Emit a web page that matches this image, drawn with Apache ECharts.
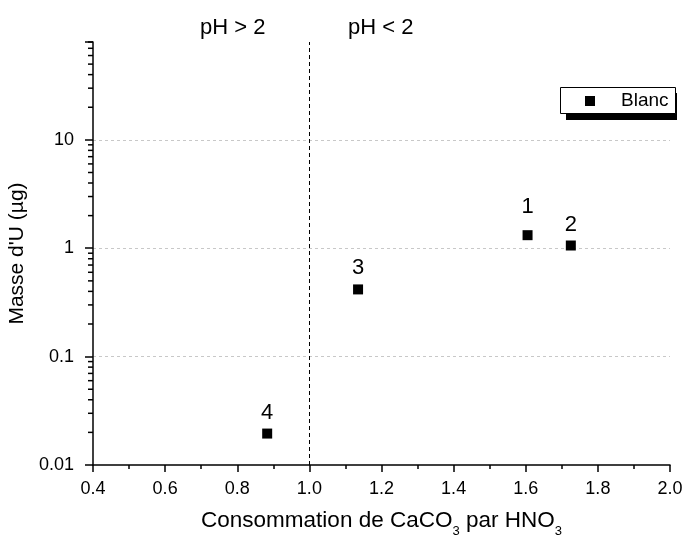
<!DOCTYPE html>
<html>
<head>
<meta charset="utf-8">
<script src="https://cdn.jsdelivr.net/npm/echarts@6/dist/echarts.min.js"></script>
<style>
html, body { margin: 0; padding: 0; background: #fff; }
#chart { width: 683px; height: 537px; }
</style>
</head>
<body>
<div id="chart"></div>
<script>
// données
var ratio = [1.605, 1.725, 1.135, 0.883];   // consommation CaCO3 / HNO3
var masse = [1.32, 1.06, 0.417, 0.0195];    // masse d'U (µg)
var pointLabels = ['1', '2', '3', '4'];
var seriesName = 'Blanc';
var xTicks = [0.4, 0.6, 0.8, 1.0, 1.2, 1.4, 1.6, 1.8, 2.0];
var yTicks = [0.01, 0.1, 1, 10];
var seuil = 1.0; // limite pH

var font = 'Liberation Sans, Arial, sans-serif';

// points avec étiquettes
var pts = [];
for (var i = 0; i < ratio.length; i++) {
	pts.push({
		value: [ratio[i], masse[i]],
		label: { formatter: pointLabels[i], offset: i == 0 ? [0, -7] : [0, 0] }
	});
}

// petites graduations log (2..9 par décade)
var minor = [];
for (var d = -2; d <= 1; d++) {
	for (var k = 2; k <= 9; k++) {
		var v = k * Math.pow(10, d);
		if (v <= 80) minor.push([xTicks[0], v]);
	}
}

var myChart = echarts.init(document.getElementById('chart'));
var option = {
	animation: false,
	grid: { left: 93, right: 13, top: 42, bottom: 72, outerBoundsMode: 'none', containLabel: false },
	graphic: [
		{ type: 'text', x: 200, y: 28, style: { text: 'pH > 2', font: '22px ' + font, fill: '#000', verticalAlign: 'middle' } },
		{ type: 'text', x: 348, y: 28, style: { text: 'pH < 2', font: '22px ' + font, fill: '#000', verticalAlign: 'middle' } },
		// cadre de la légende avec ombre
		{ type: 'rect', shape: { x: 566, y: 93, width: 111, height: 27 }, style: { fill: '#000' }, z: 10 },
		{ type: 'rect', shape: { x: 560.5, y: 87.5, width: 115, height: 26 }, style: { fill: '#fff', stroke: '#000', lineWidth: 1 }, z: 11 }
	],
	legend: {
		data: [seriesName],
		left: 585,
		top: 91,
		icon: 'rect',
		itemWidth: 10,
		itemHeight: 10,
		padding: 0,
		z: 20,
		textStyle: { fontFamily: font, fontSize: 19, lineHeight: 20, color: '#000', padding: [0, 0, 0, 21] }
	},
	xAxis: {
		type: 'value',
		min: 0.4,
		max: 2.0,
		interval: 0.2,
		name: '{a|Consommation de CaCO}{s|3}{a| par HNO}{s|3}',
		nameLocation: 'middle',
		nameGap: 43,
		nameTextStyle: {
			rich: {
				a: { fontFamily: font, fontSize: 22.5, color: '#000', lineHeight: 26 },
				s: { fontFamily: font, fontSize: 13, color: '#000', lineHeight: 13, padding: [20, 0, 0, 0] }
			}
		},
		axisLine: { lineStyle: { color: '#000', width: 1.5 } },
		axisTick: { length: 7, lineStyle: { color: '#000', width: 1.5 } },
		minorTick: { show: true, splitNumber: 2, length: 4, lineStyle: { color: '#000', width: 1.5 } },
		axisLabel: {
			fontFamily: font, fontSize: 18, color: '#000', margin: 15,
			formatter: function (v) { return v.toFixed(1); }
		},
		splitLine: { show: false }
	},
	yAxis: {
		type: 'log',
		logBase: 10,
		min: 0.01,
		max: 80,
		name: "Masse d'U (µg)",
		nameLocation: 'middle',
		nameGap: 56,
		nameTextStyle: { fontFamily: font, fontSize: 21, color: '#000' },
		axisLine: { lineStyle: { color: '#000', width: 1.5 } },
		axisTick: { length: 8, lineStyle: { color: '#000', width: 1.5 } },
		axisLabel: {
			fontFamily: font, fontSize: 18, color: '#000', margin: 19,
			formatter: function (v) {
				for (var j = 0; j < yTicks.length; j++) {
					if (Math.abs(v - yTicks[j]) < yTicks[j] * 1e-6) return String(yTicks[j]);
				}
				return '';
			}
		},
		splitLine: {
			show: true, showMinLine: false, showMaxLine: false,
			lineStyle: { color: '#c8c8c8', type: [3, 3], width: 1 }
		}
	},
	series: [
		{
			name: seriesName,
			type: 'scatter',
			symbol: 'rect',
			symbolSize: 10,
			itemStyle: { color: '#000', opacity: 1 },
			label: {
				show: true, position: 'top', distance: 5,
				fontFamily: font, fontSize: 22, color: '#000'
			},
			data: pts,
			markLine: {
				silent: true,
				symbol: 'none',
				label: { show: false },
				lineStyle: { color: '#000', type: [4, 3], width: 1 },
				data: [{ xAxis: seuil }]
			},
			z: 5
		},
		{
			type: 'custom',
			silent: true,
			clip: false,
			renderItem: function (params, api) {
				var p = api.coord([api.value(0), api.value(1)]);
				return {
					type: 'line',
					shape: { x1: p[0] - 5, y1: p[1], x2: p[0], y2: p[1] },
					style: { stroke: '#000', lineWidth: 1.5 }
				};
			},
			data: minor,
			z: 1
		}
	]
};
myChart.setOption(option);
</script>
</body>
</html>
